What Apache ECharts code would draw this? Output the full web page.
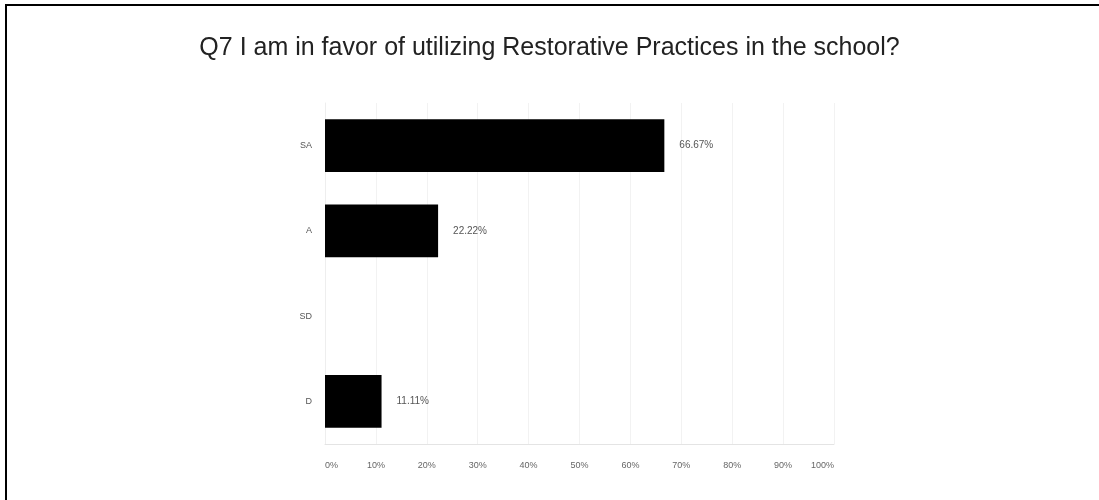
<!DOCTYPE html>
<html>
<head>
<meta charset="utf-8">
<script src="https://cdn.jsdelivr.net/npm/echarts@6/dist/echarts.min.js"></script>
<style>
html,body{margin:0;padding:0;background:#fff}
#main{width:1099px;height:500px}
#frame{position:absolute;left:5px;top:4px;width:1094px;height:496px;border-top:2px solid #000;border-left:2px solid #000;box-sizing:border-box;pointer-events:none}
</style>
</head>
<body>
<div id="main"></div>
<div id="frame"></div>
<script>
// answers, top to bottom
var categories=['SA','A','SD','D'];
var percents=[66.67,22.22,0,11.11];
var tickMax=100,tickStep=10;

function drawChart(){
	var myChart=echarts.init(document.getElementById('main'));
	var option={
		animation:false,
		title:{
			text:'Q7 I am in favor of utilizing Restorative Practices in the school?',
			left:'center',
			top:31,
			textStyle:{fontFamily:'Liberation Sans',fontSize:25,fontWeight:'normal',color:'#222'}
		},
		grid:{left:325,right:265,top:103,bottom:56,containLabel:false},
		xAxis:{
			type:'value',
			min:0,
			max:tickMax,
			interval:tickStep,
			axisLine:{show:true,lineStyle:{color:'#e4e4e4'}},
			axisTick:{show:false},
			splitLine:{show:true,lineStyle:{color:'#f2f2f2'}},
			axisLabel:{
				formatter:'{value}%',
				color:'#666',
				fontSize:9,
				fontFamily:'Liberation Sans',
				margin:17,
				alignMinLabel:'left',
				alignMaxLabel:'right'
			}
		},
		yAxis:{
			type:'category',
			data:categories,
			inverse:true,
			axisLine:{show:true,lineStyle:{color:'#eeeeee'}},
			axisTick:{show:false},
			axisLabel:{color:'#555',fontSize:9,fontFamily:'Liberation Sans',margin:13}
		},
		series:[{
			type:'bar',
			data:percents.map(function(v){return v===0?null:v}),
			barCategoryGap:'38%',
			itemStyle:{color:'#000'},
			label:{
				show:true,
				position:'right',
				distance:15,
				color:'#555',
				fontSize:10,
				fontFamily:'Liberation Sans',
				formatter:function(p){return p.value.toFixed(2)+'%'}
			}
		}]
	};
	myChart.setOption(option);
}
drawChart();
</script>
</body>
</html>
